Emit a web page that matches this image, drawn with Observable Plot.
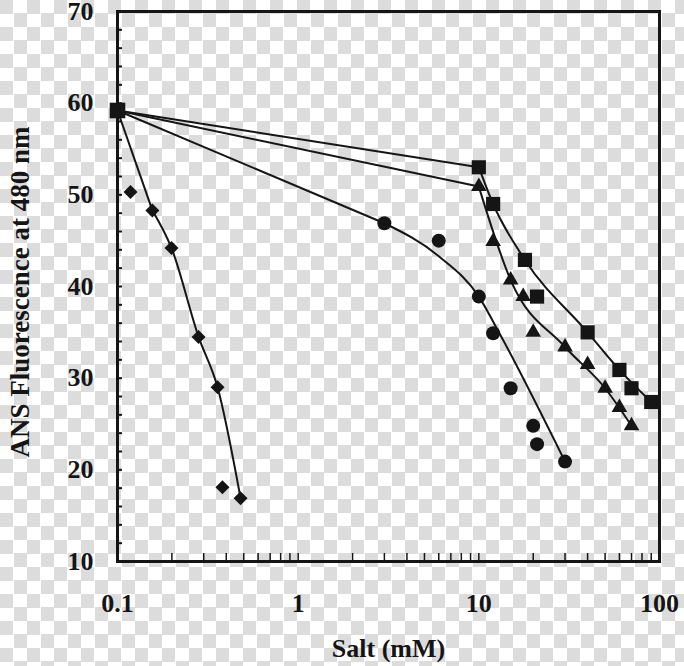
<!DOCTYPE html>
<html>
<head>
<meta charset="utf-8">
<script src="https://cdn.jsdelivr.net/npm/d3@7"></script>
<script src="https://cdn.jsdelivr.net/npm/@observablehq/plot@0.6"></script>
<style>
  html, body { margin: 0; padding: 0; }
  html {
    min-height: 100%;
    background-color: #fff;
    background-image: conic-gradient(#fff 25%, #dcdcdc 0 50%, #fff 0 75%, #dcdcdc 0);
    background-size: 27px 27px;
  }
  #chart svg { display: block; }
  #chart svg, #chart svg text {
    font-family: "Liberation Serif", "Times New Roman", serif !important;
    font-weight: bold;
  }
</style>
</head>
<body>
<div id="chart"></div>
<script>
// Shared starting point (square at 0.1 mM)
const startX = [0.1];
const startY = [59.2];

// Diamonds
const diamondX = [0.118, 0.156, 0.199, 0.281, 0.358, 0.381, 0.48];
const diamondY = [50.3, 48.3, 44.2, 34.5, 29.0, 18.1, 16.9];
const diamondFitX = [0.1, 0.156, 0.199, 0.281, 0.358, 0.48];
const diamondFitY = [59.2, 48.3, 44.2, 34.5, 29.0, 16.9];

// Circles
const circleX = [3, 6, 10, 12, 15, 20, 21, 30];
const circleY = [46.9, 45.0, 38.9, 34.9, 28.9, 24.8, 22.8, 20.9];
const circleFitX = [0.1, 3, 6, 10, 13, 30];
const circleFitY = [59.2, 46.9, 43.3, 38.9, 34.9, 20.9];

// Triangles
const triangleX = [10, 12, 15, 17.6, 20, 30, 40, 50, 60, 70];
const triangleY = [50.9, 44.9, 40.7, 38.9, 35.0, 33.4, 31.5, 28.9, 26.8, 24.8];
const triangleFitX = [0.1, 10, 15, 30, 50, 70];
const triangleFitY = [59.2, 50.9, 40.7, 33.4, 28.9, 24.8];

// Squares
const squareX = [10, 12, 18, 21, 40, 60, 70, 90];
const squareY = [53, 49, 42.9, 38.9, 35.0, 30.9, 28.9, 27.4];
const squareFitX = [0.1, 10, 12, 18, 40, 60, 90];
const squareFitY = [59.2, 53, 49, 42.9, 35.0, 30.9, 27.4];

// Ticks
const xTicks = [0.1, 1, 10, 100];
const xTickLabels = ["0.1", "1", "10", "100"];
const xMinorTicks = [0.2,0.3,0.4,0.5,0.6,0.7,0.8,0.9,1,2,3,4,5,6,7,8,9,10,20,30,40,50,60,70,80,90];
const yTicks = [10, 20, 30, 40, 50, 60, 70];
const yMinorTicks = [12,14,16,18,20,22,24,26,28,30,32,34,36,38,40,42,44,46,48,50,52,54,56,58,60,62,64,66,68];

const xLabel = "Salt (mM)";
const yLabel = "ANS Fluorescence at 480 nm";

const pts = (xs, ys) => xs.map((x, i) => ({x, y: ys[i]}));
const ink = "#151515";

// each fitted curve: straight first leg from the shared start, smooth after
function fitMarks(xs, ys) {
  const p = pts(xs, ys);
  return [
    Plot.line(p.slice(0, 2), {x: "x", y: "y", stroke: ink, strokeWidth: 2}),
    Plot.line(p.slice(1), {x: "x", y: "y", curve: "monotone-x", stroke: ink, strokeWidth: 2})
  ];
}

const chart = Plot.plot({
  width: 684,
  height: 666,
  marginLeft: 117,
  marginRight: 25,
  marginTop: 11,
  marginBottom: 105,
  style: {background: "transparent", color: ink},
  x: {type: "log", domain: [0.1, 100]},
  y: {domain: [10, 70]},
  marks: [
    Plot.axisX({ticks: xTicks, tickSize: 0, tickPadding: 32, tickFormat: d => xTickLabels[xTicks.indexOf(d)], label: null, fontSize: 26}),
    Plot.axisX({ticks: xMinorTicks, tickSize: -8, text: null, label: null, strokeWidth: 1.5, stroke: ink}),
    Plot.axisY({ticks: yTicks, tickSize: 0, tickPadding: 24, label: null, fontSize: 26}),
    Plot.axisY({ticks: yMinorTicks, tickSize: -5, text: null, label: null, strokeWidth: 2, stroke: ink}),
    Plot.frame({stroke: ink, strokeWidth: 3}),
    ...fitMarks(diamondFitX, diamondFitY),
    ...fitMarks(circleFitX, circleFitY),
    ...fitMarks(triangleFitX, triangleFitY),
    ...fitMarks(squareFitX, squareFitY),
    Plot.dot(pts(diamondX, diamondY), {x: "x", y: "y", symbol: "diamond2", r: 6.3, fill: ink, stroke: "none"}),
    Plot.dot(pts(circleX, circleY), {x: "x", y: "y", symbol: "circle", r: 7, fill: ink, stroke: "none"}),
    Plot.dot(pts(triangleX, triangleY), {x: "x", y: "y", symbol: "triangle", r: 5.8, fill: ink, stroke: "none"}),
    Plot.dot(pts(squareX, squareY), {x: "x", y: "y", symbol: "square", r: 8, fill: ink, stroke: "none"}),
    Plot.dot(pts(startX, startY), {x: "x", y: "y", symbol: "square", r: 8.8, fill: ink, stroke: "none"}),
    Plot.text([xLabel], {frameAnchor: "bottom", textAnchor: "middle", lineAnchor: "top", dy: 77, fontSize: 26, fill: ink}),
    Plot.text([yLabel], {frameAnchor: "left", textAnchor: "middle", lineAnchor: "middle", rotate: -90, dx: -97, dy: 5.5, fontSize: 27, fill: ink})
  ]
});
document.getElementById("chart").appendChild(chart);
</script>
</body>
</html>
